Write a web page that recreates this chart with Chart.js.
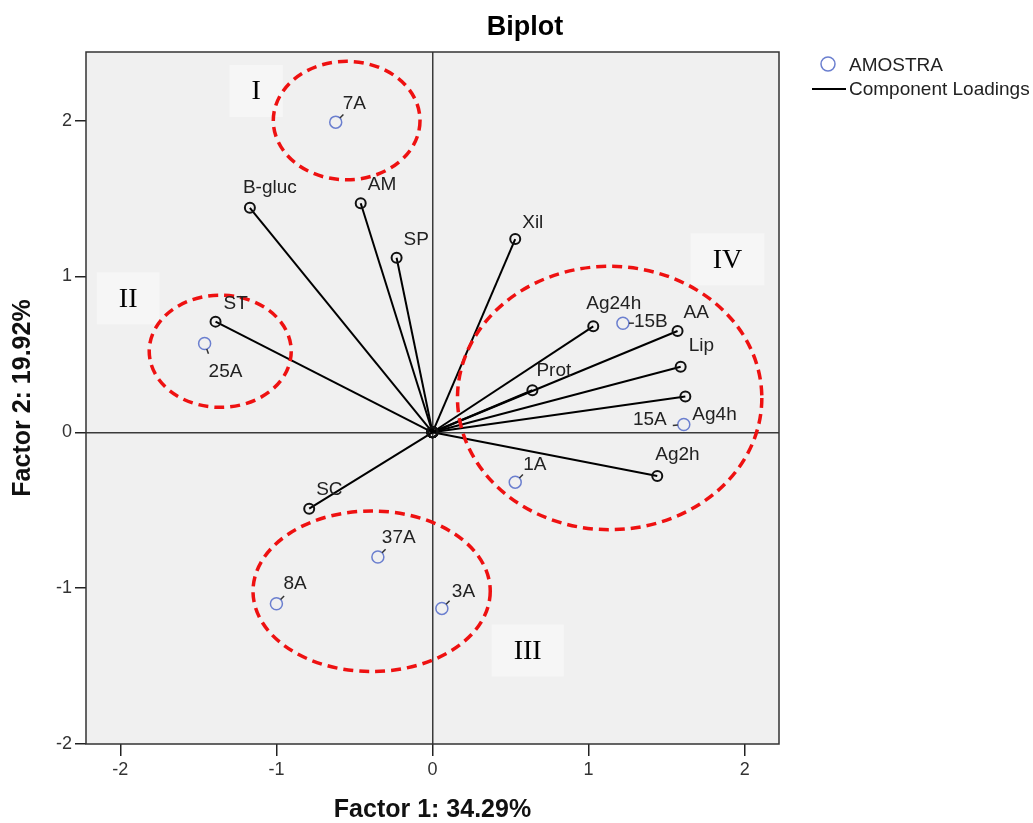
<!DOCTYPE html>
<html>
<head>
<meta charset="utf-8">
<script src="https://cdn.jsdelivr.net/npm/chart.js@4.4.1/dist/chart.umd.min.js"></script>
<style>
html, body { margin: 0; padding: 0; background: #fff; }
#wrap { width: 1033px; height: 823px; }
</style>
</head>
<body>
<div id="wrap"><canvas id="biplot" width="1033" height="823"></canvas></div>
<script>
// Component loadings (variables) - drawn as lines from the origin
const loadingNames = ['B-gluc', 'AM', 'SP', 'Xil', 'ST', 'Ag24h', 'AA', 'Lip', 'Prot', 'Ag4h', 'Ag2h', 'SC'];
const loadingX = [-1.17, -0.46, -0.23, 0.53, -1.39, 1.03, 1.57, 1.59, 0.64, 1.62, 1.44, -0.79];
const loadingY = [1.44, 1.47, 1.12, 1.24, 0.71, 0.68, 0.65, 0.42, 0.27, 0.23, -0.28, -0.49];

// Sample scores (AMOSTRA)
const sampleNames = ['7A', '25A', '15B', '15A', '1A', '37A', '8A', '3A'];
const sampleX = [-0.62, -1.46, 1.22, 1.61, 0.53, -0.35, -1.00, 0.06];
const sampleY = [1.99, 0.57, 0.70, 0.05, -0.32, -0.80, -1.10, -1.13];

// Axis ticks
const xTicks = [-2, -1, 0, 1, 2];
const yTicks = [-2, -1, 0, 1, 2];

// Group annotations (red dashed ellipses), in data units
const groupNames = ['I', 'II', 'III', 'IV'];
const groupCenterX = [-0.55, -1.36, -0.39, 1.135];
const groupCenterY = [2.0, 0.52, -1.02, 0.22];
const groupRadiusX = [0.47, 0.455, 0.76, 0.975];
const groupRadiusY = [0.38, 0.36, 0.515, 0.845];
const groupLabelX = [-1.13, -1.95, 0.61, 1.89];
const groupLabelY = [2.19, 0.86, -1.40, 1.11];

const FONT = "'Liberation Sans', Arial, sans-serif";
const SAMPLE_BLUE = '#6b7fcf';

// label placement (pixel offsets from the marker)
const loadingLabelPos = {
  'B-gluc': [-7, -15], 'AM': [7, -13], 'SP': [7, -13], 'Xil': [7, -11], 'ST': [8, -13],
  'Ag24h': [-7, -17], 'AA': [6, -13], 'Lip': [8, -16], 'Prot': [4, -14],
  'Ag4h': [7, 24], 'Ag2h': [-2, -16], 'SC': [7, -14]
};
// [dx, dy, align, connector direction]
const sampleLabelPos = {
  '7A': [7, -13, 'left', [0.7, -0.7]],
  '25A': [4, 34, 'left', [0.35, 0.94]],
  '15B': [11, 4, 'left', [1, 0]],
  '15A': [-17, 1, 'right', [-1, 0.1]],
  '1A': [8, -12, 'left', [0.7, -0.7]],
  '37A': [4, -14, 'left', [0.7, -0.7]],
  '8A': [7, -15, 'left', [0.7, -0.7]],
  '3A': [10, -11, 'left', [0.7, -0.7]]
};

const loadingSets = loadingNames.map((name, i) => ({
  label: name,
  data: [{ x: 0, y: 0 }, { x: loadingX[i], y: loadingY[i] }],
  showLine: true,
  borderColor: '#000',
  borderWidth: 2,
  pointRadius: 5,
  pointBorderWidth: 2,
  pointBorderColor: '#111',
  pointBackgroundColor: 'rgba(0,0,0,0)'
}));

const sampleSet = {
  label: 'AMOSTRA',
  data: sampleNames.map((n, i) => ({ x: sampleX[i], y: sampleY[i] })),
  showLine: false,
  pointRadius: 6,
  pointBorderWidth: 1.5,
  pointBorderColor: SAMPLE_BLUE,
  pointBackgroundColor: 'rgba(0,0,0,0)'
};

const biplotDecor = {
  id: 'biplotDecor',
  beforeDraw(chart) {
    const { ctx, chartArea: a } = chart;
    ctx.save();
    ctx.fillStyle = '#fff';
    ctx.fillRect(0, 0, chart.width, chart.height);
    ctx.fillStyle = '#f0f0f0';
    ctx.fillRect(a.left, a.top, a.right - a.left, a.bottom - a.top);
    ctx.restore();
  },
  beforeDatasetsDraw(chart) {
    const { ctx } = chart;
    const xs = chart.scales.x, ys = chart.scales.y;
    ctx.save();
    ctx.font = "28px 'Liberation Serif', 'Times New Roman', serif";
    ctx.textAlign = 'center';
    ctx.textBaseline = 'middle';
    groupNames.forEach((g, i) => {
      const px = xs.getPixelForValue(groupLabelX[i]);
      const py = ys.getPixelForValue(groupLabelY[i]);
      const w = ctx.measureText(g).width + 44;
      ctx.fillStyle = '#f6f6f6';
      ctx.fillRect(px - w / 2, py - 26, w, 52);
      ctx.fillStyle = '#000';
      ctx.fillText(g, px, py + 1);
    });
    ctx.restore();
  },
  afterDatasetsDraw(chart) {
    const { ctx, chartArea: a } = chart;
    const xs = chart.scales.x, ys = chart.scales.y;
    ctx.save();

    // red dashed group ellipses
    ctx.strokeStyle = '#ee1111';
    ctx.lineWidth = 3.5;
    ctx.setLineDash([10, 6]);
    groupNames.forEach((g, i) => {
      const cx = xs.getPixelForValue(groupCenterX[i]);
      const cy = ys.getPixelForValue(groupCenterY[i]);
      const rx = Math.abs(xs.getPixelForValue(groupCenterX[i] + groupRadiusX[i]) - cx);
      const ry = Math.abs(ys.getPixelForValue(groupCenterY[i] + groupRadiusY[i]) - cy);
      ctx.beginPath();
      ctx.ellipse(cx, cy, rx, ry, 0, 0, Math.PI * 2);
      ctx.stroke();
    });
    ctx.setLineDash([]);

    // point labels
    ctx.font = '19px ' + FONT;
    ctx.fillStyle = '#222';
    ctx.textBaseline = 'alphabetic';
    loadingNames.forEach((n, i) => {
      const p = loadingLabelPos[n];
      ctx.textAlign = 'left';
      ctx.fillText(n, xs.getPixelForValue(loadingX[i]) + p[0], ys.getPixelForValue(loadingY[i]) + p[1]);
    });
    ctx.strokeStyle = '#333';
    ctx.lineWidth = 1.5;
    sampleNames.forEach((n, i) => {
      const p = sampleLabelPos[n];
      const px = xs.getPixelForValue(sampleX[i]);
      const py = ys.getPixelForValue(sampleY[i]);
      const d = p[3];
      ctx.beginPath();
      ctx.moveTo(px + d[0] * 6, py + d[1] * 6);
      ctx.lineTo(px + d[0] * 11, py + d[1] * 11);
      ctx.stroke();
      ctx.textAlign = p[2];
      ctx.fillText(n, px + p[0], py + p[1]);
    });

    // plot frame
    ctx.strokeStyle = '#333';
    ctx.lineWidth = 1.5;
    ctx.strokeRect(a.left, a.top, a.right - a.left, a.bottom - a.top);

    // title
    ctx.fillStyle = '#000';
    ctx.font = 'bold 27px ' + FONT;
    ctx.textAlign = 'center';
    ctx.textBaseline = 'middle';
    ctx.fillText('Biplot', 525, 28);

    // legend
    ctx.strokeStyle = SAMPLE_BLUE;
    ctx.lineWidth = 1.5;
    ctx.beginPath();
    ctx.arc(828, 64, 7, 0, Math.PI * 2);
    ctx.stroke();
    ctx.strokeStyle = '#000';
    ctx.lineWidth = 2;
    ctx.beginPath();
    ctx.moveTo(812, 89);
    ctx.lineTo(846, 89);
    ctx.stroke();
    ctx.fillStyle = '#222';
    ctx.font = '19px ' + FONT;
    ctx.textAlign = 'left';
    ctx.fillText('AMOSTRA', 849, 66);
    ctx.fillText('Component Loadings', 849, 90);

    ctx.restore();
  }
};

const zeroLine = (c) => (c.tick && c.tick.value === 0 ? '#3a3a3a' : 'rgba(0,0,0,0)');

new Chart(document.getElementById('biplot'), {
  type: 'scatter',
  data: { datasets: [...loadingSets, sampleSet] },
  options: {
    responsive: false,
    devicePixelRatio: 1,
    animation: false,
    layout: { padding: { top: 52, right: 254, left: 0, bottom: 0 } },
    plugins: {
      legend: { display: false },
      tooltip: { enabled: false }
    },
    scales: {
      x: {
        type: 'linear',
        min: -2.22,
        max: 2.22,
        afterBuildTicks: (s) => { s.ticks = xTicks.map(v => ({ value: v })); },
        afterFit: (s) => { s.height = 79; },
        border: { display: false },
        grid: { color: zeroLine, lineWidth: 1.5, tickColor: '#222', tickWidth: 1.5, tickLength: 12 },
        ticks: { color: '#333', font: { family: FONT, size: 18 }, padding: 3, maxRotation: 0 },
        title: {
          display: true,
          text: 'Factor 1: 34.29%',
          color: '#111',
          font: { family: FONT, size: 25, weight: 'bold', lineHeight: 1 },
          padding: { top: 0, bottom: 0 }
        }
      },
      y: {
        type: 'linear',
        min: -2,
        max: 2.44,
        afterBuildTicks: (s) => { s.ticks = yTicks.map(v => ({ value: v })); },
        afterFit: (s) => { s.width = 86; },
        border: { display: false },
        grid: { color: zeroLine, lineWidth: 1.5, tickColor: '#222', tickWidth: 1.5, tickLength: 11 },
        ticks: { color: '#333', font: { family: FONT, size: 18 }, padding: 3 },
        title: {
          display: true,
          text: 'Factor 2: 19.92%',
          color: '#111',
          font: { family: FONT, size: 25, weight: 'bold', lineHeight: 1 },
          padding: { top: 11, bottom: 0 }
        }
      }
    }
  },
  plugins: [biplotDecor]
});
</script>
</body>
</html>
